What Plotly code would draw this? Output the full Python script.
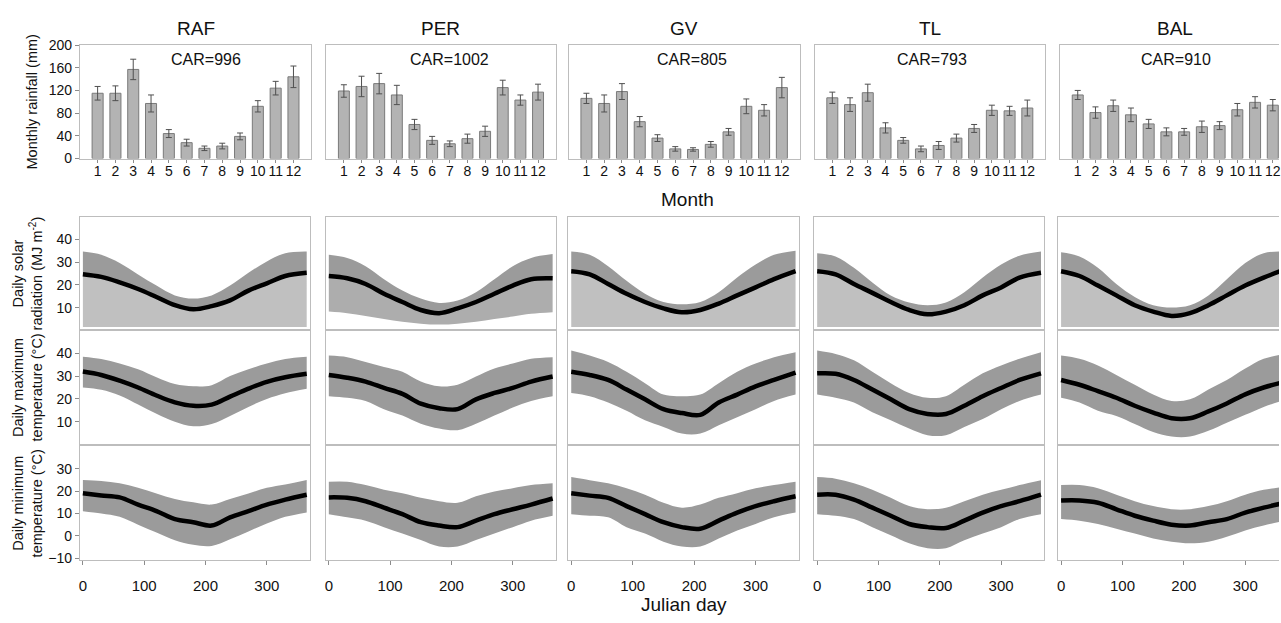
import plotly.graph_objects as go

W, H = 1281, 623

# ---------------- data ----------------
sites = ["RAF", "PER", "GV", "TL", "BAL"]
car_values = [996, 1002, 805, 793, 910]
months = [1, 2, 3, 4, 5, 6, 7, 8, 9, 10, 11, 12]
month_labels = ["1", "2", "3", "4", "5", "6", "7", "8", "9", "10", "11", "12"]

rain_raf = [115, 115, 157, 97, 44, 28, 18, 22, 39, 92, 124, 144]
rain_per = [119, 127, 132, 112, 60, 32, 26, 35, 48, 125, 103, 117]
rain_gv = [106, 97, 118, 65, 36, 17, 16, 25, 47, 92, 85, 125]
rain_tl = [107, 95, 116, 54, 32, 17, 23, 36, 53, 85, 84, 89]
rain_bal = [112, 81, 93, 77, 61, 47, 47, 56, 58, 86, 99, 94]

err_raf = [12, 13, 18, 15, 7, 6, 4, 5, 6, 10, 12, 19]
err_per = [11, 18, 18, 17, 9, 7, 5, 8, 9, 13, 9, 14]
err_gv = [9, 15, 14, 9, 6, 4, 3, 5, 6, 13, 10, 18]
err_tl = [10, 12, 15, 9, 5, 5, 7, 7, 7, 9, 8, 14]
err_bal = [8, 10, 10, 12, 8, 7, 6, 10, 7, 11, 10, 10]

days = [0, 30, 60, 90, 120, 150, 180, 210, 240, 270, 300, 330, 365]

# daily solar radiation (MJ m-2): mean line, upper and lower edge of the cloud
solar_mean_raf = [24.7, 23.5, 21.1, 18.2, 14.7, 11.1, 9.3, 10.7, 13.2, 17.5, 20.7, 23.9, 25.3]
solar_upper_raf = [34.6, 33.2, 29.6, 24.6, 19.7, 15.4, 14.0, 15.4, 19.7, 25.3, 30.3, 33.9, 34.6]
solar_lower_raf = [1.5, 1.5, 1.5, 1.5, 1.5, 1.5, 1.5, 1.5, 1.5, 1.5, 1.5, 1.5, 1.5]
solar_mean_per = [23.9, 22.9, 20.4, 16.1, 12.5, 9.0, 7.6, 9.7, 12.5, 16.1, 19.7, 22.5, 22.9]
solar_upper_per = [33.2, 31.8, 28.2, 22.5, 17.5, 14.0, 12.1, 13.2, 16.8, 22.5, 28.2, 31.8, 33.5]
solar_lower_per = [8.3, 7.6, 6.4, 5.0, 3.8, 3.0, 2.6, 3.0, 3.8, 5.0, 6.1, 7.3, 8.0]
solar_mean_gv = [26.0, 24.6, 20.4, 16.1, 12.5, 9.7, 8.0, 9.0, 11.8, 15.4, 18.9, 22.5, 26.0]
solar_upper_gv = [34.6, 33.2, 28.2, 21.8, 16.1, 12.5, 11.5, 12.5, 16.8, 23.2, 28.9, 33.2, 35.0]
solar_lower_gv = [1.5, 1.5, 1.5, 1.5, 1.5, 1.5, 1.5, 1.5, 1.5, 1.5, 1.5, 1.5, 1.5]
solar_mean_tl = [26.0, 24.6, 20.4, 16.5, 12.5, 9.0, 7.1, 8.3, 11.1, 15.4, 18.9, 23.2, 25.3]
solar_upper_tl = [33.9, 32.5, 27.5, 21.1, 15.4, 12.3, 11.1, 12.3, 16.8, 23.2, 28.9, 32.8, 34.6]
solar_lower_tl = [1.5, 1.5, 1.5, 1.5, 1.5, 1.5, 1.5, 1.5, 1.5, 1.5, 1.5, 1.5, 1.5]
solar_mean_bal = [26.0, 23.9, 19.7, 15.4, 11.1, 8.3, 6.4, 7.6, 11.1, 15.4, 19.7, 23.2, 26.8]
solar_upper_bal = [34.3, 32.5, 27.5, 20.4, 14.7, 11.1, 10.1, 11.1, 15.4, 22.5, 29.6, 33.9, 34.6]
solar_lower_bal = [1.5, 1.5, 1.5, 1.5, 1.5, 1.5, 1.5, 1.5, 1.5, 1.5, 1.5, 1.5, 1.5]

# daily maximum temperature (deg C)
tmax_mean_raf = [32.0, 30.5, 28.0, 25.0, 21.5, 18.5, 17.0, 17.5, 21.0, 24.5, 27.5, 29.5, 31.0]
tmax_upper_raf = [38.5, 37.5, 35.5, 33.0, 29.5, 26.5, 25.5, 26.0, 30.0, 33.0, 35.5, 37.5, 38.5]
tmax_lower_raf = [25.0, 24.0, 21.5, 17.5, 13.5, 10.0, 8.0, 9.0, 12.5, 16.5, 20.0, 22.5, 24.5]
tmax_mean_per = [30.5, 29.3, 27.6, 24.8, 22.2, 17.9, 15.9, 15.5, 19.8, 22.6, 24.8, 27.6, 29.8]
tmax_upper_per = [39.0, 38.3, 36.2, 34.0, 31.9, 27.6, 25.5, 26.2, 29.8, 33.3, 35.5, 37.6, 38.3]
tmax_lower_per = [21.2, 20.5, 19.1, 15.5, 12.7, 9.1, 7.0, 6.3, 9.1, 12.7, 16.2, 19.1, 21.2]
tmax_mean_gv = [31.9, 30.5, 28.3, 24.1, 19.8, 15.5, 13.8, 13.0, 18.4, 21.9, 25.5, 28.3, 31.5]
tmax_upper_gv = [41.2, 39.0, 36.2, 31.9, 26.9, 21.9, 21.2, 21.9, 26.9, 31.9, 35.5, 38.3, 40.5]
tmax_lower_gv = [22.6, 21.2, 18.4, 14.8, 10.6, 7.7, 4.8, 4.8, 8.4, 12.0, 15.5, 19.1, 21.9]
tmax_mean_tl = [31.2, 31.0, 28.3, 24.1, 19.8, 15.5, 13.4, 13.4, 17.0, 21.2, 24.8, 28.3, 31.2]
tmax_upper_tl = [41.2, 39.7, 36.9, 31.9, 26.9, 22.6, 20.5, 21.2, 26.2, 31.2, 34.7, 37.6, 40.5]
tmax_lower_tl = [21.9, 20.5, 18.4, 14.1, 10.6, 7.0, 4.1, 4.1, 7.7, 11.2, 15.5, 19.1, 21.9]
tmax_mean_bal = [28.3, 26.2, 23.4, 20.5, 17.0, 14.0, 11.5, 11.5, 14.5, 18.0, 22.0, 25.0, 27.5]
tmax_upper_bal = [39.0, 37.6, 34.7, 30.5, 26.2, 21.9, 19.1, 19.8, 24.1, 28.3, 33.3, 37.6, 39.7]
tmax_lower_bal = [20.5, 18.4, 14.8, 12.5, 9.0, 5.5, 3.5, 3.5, 6.0, 9.5, 13.0, 16.5, 19.5]

# daily minimum temperature (deg C)
tmin_mean_raf = [19.1, 18.1, 17.2, 14.0, 11.1, 7.5, 6.1, 4.6, 8.3, 11.1, 14.0, 16.2, 18.4]
tmin_upper_raf = [25.0, 24.5, 23.5, 21.5, 19.0, 16.5, 15.0, 14.0, 16.5, 19.0, 21.5, 23.0, 25.0]
tmin_lower_raf = [11.0, 10.0, 8.5, 5.0, 1.5, -2.0, -4.0, -4.5, -1.5, 2.0, 5.5, 8.5, 10.5]
tmin_mean_per = [17.2, 17.0, 15.5, 12.6, 9.7, 6.1, 4.6, 3.9, 6.8, 9.7, 11.9, 14.0, 16.7]
tmin_upper_per = [24.2, 24.2, 22.7, 20.6, 19.1, 17.0, 15.5, 14.8, 17.7, 19.8, 21.3, 22.7, 23.5]
tmin_lower_per = [9.7, 8.3, 6.8, 3.9, 1.0, -1.9, -4.8, -4.8, -1.9, 1.0, 3.9, 6.8, 9.0]
tmin_mean_gv = [19.1, 18.0, 17.0, 13.3, 9.7, 6.1, 3.9, 3.2, 6.8, 10.4, 13.3, 15.5, 17.7]
tmin_upper_gv = [26.3, 24.9, 23.5, 21.3, 18.4, 14.8, 12.6, 14.0, 17.0, 19.1, 21.3, 22.7, 24.2]
tmin_lower_gv = [9.7, 9.0, 8.3, 3.9, 1.0, -2.6, -4.8, -4.8, -1.2, 2.4, 5.3, 8.3, 10.4]
tmin_mean_tl = [18.4, 18.4, 16.2, 12.6, 9.0, 5.3, 3.9, 3.5, 6.8, 10.4, 13.3, 15.5, 18.4]
tmin_upper_tl = [26.3, 25.6, 23.5, 20.6, 17.0, 13.3, 11.9, 12.6, 15.5, 18.4, 20.6, 22.7, 24.9]
tmin_lower_tl = [9.7, 9.0, 7.5, 3.9, 0.3, -3.3, -5.5, -5.5, -2.0, 1.0, 3.9, 7.5, 9.7]
tmin_mean_bal = [15.8, 15.8, 14.8, 11.9, 9.0, 6.8, 5.0, 4.6, 6.1, 7.5, 10.4, 12.6, 14.8]
tmin_upper_bal = [22.7, 22.7, 21.3, 18.4, 15.5, 13.3, 11.9, 11.9, 13.3, 15.5, 18.4, 20.6, 22.0]
tmin_lower_bal = [7.5, 6.8, 5.3, 3.2, 1.0, -1.2, -2.6, -3.3, -2.6, -0.4, 2.4, 4.6, 6.8]

rain = [rain_raf, rain_per, rain_gv, rain_tl, rain_bal]
rain_err = [err_raf, err_per, err_gv, err_tl, err_bal]
solar = [(solar_mean_raf, solar_upper_raf, solar_lower_raf),
         (solar_mean_per, solar_upper_per, solar_lower_per),
         (solar_mean_gv, solar_upper_gv, solar_lower_gv),
         (solar_mean_tl, solar_upper_tl, solar_lower_tl),
         (solar_mean_bal, solar_upper_bal, solar_lower_bal)]
tmax = [(tmax_mean_raf, tmax_upper_raf, tmax_lower_raf),
        (tmax_mean_per, tmax_upper_per, tmax_lower_per),
        (tmax_mean_gv, tmax_upper_gv, tmax_lower_gv),
        (tmax_mean_tl, tmax_upper_tl, tmax_lower_tl),
        (tmax_mean_bal, tmax_upper_bal, tmax_lower_bal)]
tmin = [(tmin_mean_raf, tmin_upper_raf, tmin_lower_raf),
        (tmin_mean_per, tmin_upper_per, tmin_lower_per),
        (tmin_mean_gv, tmin_upper_gv, tmin_lower_gv),
        (tmin_mean_tl, tmin_upper_tl, tmin_lower_tl),
        (tmin_mean_bal, tmin_upper_bal, tmin_lower_bal)]

# ---------------- layout geometry (pixels) ----------------
def px(x):
    return x / W


def py(y):
    return 1 - y / H


bar_cols = [(79, 311), (326, 556), (569, 800.5), (815.5, 1046.5), (1061.5, 1281)]
sc_cols = [(79, 309.5), (325.5, 556), (568.5, 799.5), (815, 1045.5), (1059.5, 1281)]
bar_row = (38, 154.5)
sc_rows = [(214, 331), (331, 448), (450, 567)]

FONT = "Liberation Sans, Arial, sans-serif"
BORDER = "#bdbdbd"
TICKC = "#8c8c8c"
GRAY = "#9b9b9b"
LIGHT = "#c0c0c0"

fig = go.Figure()
layout = dict(
    width=W, height=H,
    margin=dict(l=0, r=0, t=0, b=0),
    paper_bgcolor="white", plot_bgcolor="white",
    showlegend=False,
    font=dict(family=FONT, size=14, color="#111111"),
)


def aname(k, a):
    return f"{a}axis" if k == 1 else f"{a}axis{k}"


def aref(k, a):
    return a if k == 1 else f"{a}{k}"


annotations = []

# ---------- bar row ----------
for c in range(5):
    k = c + 1
    L, R = bar_cols[c]
    last = c == 4
    fig.add_trace(go.Bar(
        x=months, y=rain[c],
        error_y=dict(type="data", array=rain_err[c], color="#505050", thickness=1, width=3),
        marker=dict(color="#b3b3b3", line=dict(color="#7a7a7a", width=1)),
        width=0.62,
        xaxis=aref(k, "x"), yaxis=aref(k, "y"), hoverinfo="skip",
    ))
    layout[aname(k, "x")] = dict(
        domain=[px(L), px(R)], range=[0, 12.35 if last else 13],
        tickvals=months, ticktext=month_labels, ticks="outside", ticklen=3,
        ticklabelstandoff=-3, ticklabeloverflow="allow",
        tickcolor=TICKC, showline=True, linecolor=BORDER, mirror=True,
        showgrid=False, zeroline=False, anchor=aref(k, "y"),
        tickfont=dict(size=14), fixedrange=True,
    )
    layout[aname(k, "y")] = dict(
        domain=[py(bar_row[1]), py(bar_row[0])], range=[0, 200],
        tickvals=[0, 40, 80, 120, 160, 200],
        showticklabels=(c == 0), ticks="outside" if c == 0 else "", ticklen=4,
        tickcolor=TICKC, showline=True, linecolor=BORDER, mirror=not last,
        showgrid=False, zeroline=False, anchor=aref(k, "x"),
        tickfont=dict(size=14), fixedrange=True,
    )
    # site title
    annotations.append(dict(text=sites[c], x=px((L + (R if not last else 1292)) / 2), y=py(21),
                            xref="paper", yref="paper", showarrow=False,
                            font=dict(size=19), xanchor="center", yanchor="middle"))
    # CAR label
    car_x = [205, 450, 693, 933, 1178][c]
    annotations.append(dict(text=f"CAR={car_values[c]}", x=px(car_x), y=py(53),
                            xref="paper", yref="paper", showarrow=False,
                            font=dict(size=16), xanchor="center", yanchor="middle"))

# ---------- scatter rows ----------
row_data = [solar, tmax, tmin]
row_ranges = [[0, 50], [0, 50], [-11, 40]]
row_ticks = [[10, 20, 30, 40], [10, 20, 30, 40], [-10, 0, 10, 20, 30]]

for r in range(3):
    T, B = sc_rows[r]
    for c in range(5):
        k = 5 * (r + 1) + c + 1
        L, R = sc_cols[c]
        last = c == 4
        mean, upper, lower = row_data[r][c]
        xa, ya = aref(k, "x"), aref(k, "y")
        if r == 0:
            # sparse lower part of the cloud (lower edge -> mean)
            fig.add_trace(go.Scatter(x=days, y=lower, mode="lines", line=dict(width=0, shape="spline"),
                                     xaxis=xa, yaxis=ya, hoverinfo="skip"))
            fig.add_trace(go.Scatter(x=days, y=mean, mode="lines", line=dict(width=0, shape="spline"),
                                     fill="tonexty", fillcolor=LIGHT if c != 1 else "#adadad",
                                     xaxis=xa, yaxis=ya, hoverinfo="skip"))
            # dense upper part (mean -> upper edge)
            fig.add_trace(go.Scatter(x=days, y=upper, mode="lines", line=dict(width=0, shape="spline"),
                                     fill="tonexty", fillcolor=GRAY,
                                     xaxis=xa, yaxis=ya, hoverinfo="skip"))
        else:
            fig.add_trace(go.Scatter(x=days, y=lower, mode="lines", line=dict(width=0, shape="spline"),
                                     xaxis=xa, yaxis=ya, hoverinfo="skip"))
            fig.add_trace(go.Scatter(x=days, y=upper, mode="lines", line=dict(width=0, shape="spline"),
                                     fill="tonexty", fillcolor=GRAY,
                                     xaxis=xa, yaxis=ya, hoverinfo="skip"))
        fig.add_trace(go.Scatter(x=days, y=mean, mode="lines",
                                 line=dict(color="black", width=4.5, shape="spline"),
                                 xaxis=xa, yaxis=ya, hoverinfo="skip"))
        bottom = r == 2
        layout[aname(k, "x")] = dict(
            domain=[px(L), px(R)], range=[-5, 355 if last else 370],
            tickvals=[0, 100, 200, 300], showticklabels=bottom,
            ticks="outside" if bottom else "", ticklen=4, tickcolor=TICKC,
            ticklabelstandoff=8,
            showline=True, linecolor=BORDER, mirror=True,
            showgrid=False, zeroline=False, anchor=ya,
            tickfont=dict(size=15), fixedrange=True,
        )
        layout[aname(k, "y")] = dict(
            domain=[py(B), py(T)], range=row_ranges[r],
            tickvals=row_ticks[r], showticklabels=(c == 0),
            ticks="outside" if c == 0 else "", ticklen=4, tickcolor=TICKC,
            showline=True, linecolor=BORDER, mirror=not last,
            showgrid=False, zeroline=False, anchor=xa,
            tickfont=dict(size=14), fixedrange=True,
        )

# ---------- axis titles ----------
annotations.append(dict(text="Monthly rainfall (mm)", x=px(31), y=py(96), xref="paper", yref="paper",
                        showarrow=False, textangle=-90, font=dict(size=14.5),
                        xanchor="center", yanchor="middle"))
row_titles = ["Daily solar<br>radiation (MJ m<sup>-2</sup>)",
              "Daily maximum<br>temperature (°C)",
              "Daily minimum<br>temperature (°C)"]
for r in range(3):
    T, B = sc_rows[r]
    annotations.append(dict(text=row_titles[r], x=px(27), y=py((T + B) / 2), xref="paper", yref="paper",
                            showarrow=False, textangle=-90, font=dict(size=14.5),
                            xanchor="center", yanchor="middle"))
annotations.append(dict(text="Month", x=px(688), y=py(197), xref="paper", yref="paper",
                        showarrow=False, font=dict(size=19), xanchor="center", yanchor="middle"))
annotations.append(dict(text="Julian day", x=px(685), y=py(599), xref="paper", yref="paper",
                        showarrow=False, font=dict(size=19), xanchor="center", yanchor="top"))

layout["annotations"] = annotations
fig.update_layout(**layout)
fig.write_html("out.html")
